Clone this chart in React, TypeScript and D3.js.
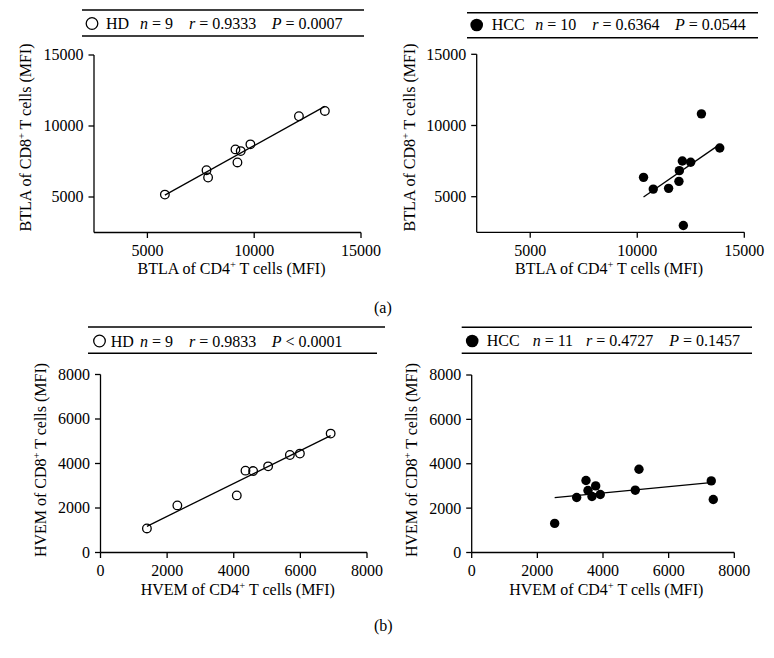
import React from "react";
import * as d3 from "d3";

// ---- tick values ----
const btlaTicks = [5000, 10000, 15000];
const hvemTicks = [0, 2000, 4000, 6000, 8000];
const btlaDomain = [2500, 15000];
const hvemDomain = [0, 8000];

// ---- (a) BTLA, healthy donors ----
const hdBtlaCD4 = [13308, 12094, 9822, 9369, 9122, 9215, 7767, 7841, 5818];
const hdBtlaCD8 = [11061, 10686, 8706, 8232, 8352, 7433, 6888, 6372, 5170];
// ---- (a) BTLA, HCC ----
const hccBtlaCD4 = [12997, 13854, 12106, 12495, 11966, 10293, 11947, 10747, 11464, 12153];
const hccBtlaCD8 = [10817, 8423, 7507, 7416, 6831, 6359, 6078, 5535, 5585, 2979];
// ---- (b) HVEM, healthy donors ----
const hdHvemCD4 = [6909, 5986, 5685, 5032, 4581, 4352, 4091, 2307, 1393];
const hdHvemCD8 = [5344, 4444, 4381, 3872, 3661, 3678, 2566, 2116, 1081];
// ---- (b) HVEM, HCC ----
const hccHvemCD4 = [5096, 3482, 7298, 3777, 3543, 4983, 3917, 3664, 3198, 7359, 2528];
const hccHvemCD8 = [3753, 3245, 3227, 3002, 2796, 2809, 2616, 2526, 2481, 2391, 1312];

// ---- header texts ----
const headerGroups = ["HD", "HCC", "HD", "HCC"];
const headerN = ["9", "10", "9", "11"];
const headerR = ["0.9333", "0.6364", "0.9833", "0.4727"];
const headerP = ["= 0.0007", "= 0.0544", "< 0.0001", "= 0.1457"];

const FONT = "'Liberation Serif', 'Times New Roman', serif";

type PanelCfg = {
  xs: number[];
  ys: number[];
  filled: boolean;
  xDomain: number[];
  yDomain: number[];
  ticks: number[];
  left: number;
  right: number;
  top: number;
  bottom: number;
  zeroCross: boolean;
  marker: string;
  xTitle: [number, number];
  yTitle: [number, number];
  header: {
    idx: number;
    cx: number;
    cy: number;
    base: number;
    xs: number[];
    rule: [number, number, number, number, number];
  };
};

const panels: PanelCfg[] = [
  {
    xs: hdBtlaCD4, ys: hdBtlaCD8, filled: false,
    xDomain: btlaDomain, yDomain: btlaDomain, ticks: btlaTicks,
    left: 94, right: 361, top: 55, bottom: 232.5, zeroCross: false, marker: "BTLA",
    xTitle: [231.5, 273.7], yTitle: [30.5, 137.5],
    header: { idx: 0, cx: 92, cy: 23.5, base: 28.5, xs: [106, 140, 189, 271.7], rule: [82, 364, 10, 36, 364] },
  },
  {
    xs: hccBtlaCD4, ys: hccBtlaCD8, filled: true,
    xDomain: btlaDomain, yDomain: btlaDomain, ticks: btlaTicks,
    left: 476.7, right: 744.3, top: 54.3, bottom: 232.3, zeroCross: false, marker: "BTLA",
    xTitle: [609, 274], yTitle: [415, 137.5],
    header: { idx: 1, cx: 476.7, cy: 25, base: 30, xs: [491.7, 535.3, 592.3, 675], rule: [467, 758, 12.7, 37.7, 758] },
  },
  {
    xs: hdHvemCD4, ys: hdHvemCD8, filled: false,
    xDomain: hvemDomain, yDomain: hvemDomain, ticks: hvemTicks,
    left: 100.5, right: 367, top: 374.5, bottom: 552.5, zeroCross: true, marker: "HVEM",
    xTitle: [237.8, 595], yTitle: [46, 460],
    header: { idx: 2, cx: 99.5, cy: 341, base: 346.7, xs: [110.7, 140, 189, 271.7], rule: [88, 385, 327, 353.3, 377] },
  },
  {
    xs: hccHvemCD4, ys: hccHvemCD8, filled: true,
    xDomain: hvemDomain, yDomain: hvemDomain, ticks: hvemTicks,
    left: 471.7, right: 734.3, top: 375, bottom: 552.5, zeroCross: true, marker: "HVEM",
    xTitle: [606.3, 595], yTitle: [417, 460],
    header: { idx: 3, cx: 472.2, cy: 341, base: 346, xs: [486.7, 532.7, 586, 669.3], rule: [461.7, 752, 327.3, 353.3, 752] },
  },
];

function Title({ marker, cd }: { marker: string; cd: string }) {
  return (
    <>
      <tspan>{`${marker} of CD${cd}`}</tspan>
      <tspan dy={-6} fontSize={10.5}>+</tspan>
      <tspan dy={6}>{" T cells (MFI)"}</tspan>
    </>
  );
}

function Panel({ p }: { p: PanelCfg }) {
  const x = d3.scaleLinear().domain(p.xDomain).range([p.left, p.right]);
  const y = d3.scaleLinear().domain(p.yDomain).range([p.bottom, p.top]);
  const mx = d3.mean(p.xs) as number;
  const my = d3.mean(p.ys) as number;
  const sxy = d3.sum(p.xs, (v, i) => (v - mx) * (p.ys[i] - my));
  const sxx = d3.sum(p.xs, (v) => (v - mx) * (v - mx));
  const b = sxy / sxx;
  const a = my - b * mx;
  const [xmin, xmax] = d3.extent(p.xs) as [number, number];
  const lineGen = d3.line<number>().x((v) => x(v)).y((v) => y(a + b * v));
  const h = p.header;
  const [r0, r1, ry0, ry1, r1b] = h.rule;
  const tickLen = 5.5;
  const sw = 1.3;
  return (
    <g>
      {/* header */}
      <line x1={r0} x2={r1} y1={ry0} y2={ry0} stroke="#000" strokeWidth={1.4} />
      <line x1={r0} x2={r1b} y1={ry1} y2={ry1} stroke="#000" strokeWidth={1.4} />
      <circle cx={h.cx} cy={h.cy} r={p.filled ? 6.3 : 5.8} fill={p.filled ? "#000" : "#fff"} stroke="#000" strokeWidth={p.filled ? 0 : 1.3} />
      <text x={h.xs[0]} y={h.base} fontSize={16}>{headerGroups[h.idx]}</text>
      <text x={h.xs[1]} y={h.base} fontSize={16}>
        <tspan fontStyle="italic">n</tspan>{` = ${headerN[h.idx]}`}
      </text>
      <text x={h.xs[2]} y={h.base} fontSize={16}>
        <tspan fontStyle="italic">r</tspan>{` = ${headerR[h.idx]}`}
      </text>
      <text x={h.xs[3]} y={h.base} fontSize={16}>
        <tspan fontStyle="italic">P</tspan>{` ${headerP[h.idx]}`}
      </text>

      {/* axes */}
      <line x1={p.left} x2={p.left} y1={p.top} y2={p.bottom} stroke="#000" strokeWidth={sw} />
      <line x1={p.left} x2={p.right} y1={p.bottom} y2={p.bottom} stroke="#000" strokeWidth={sw} />
      {p.ticks.map((t) => (
        <g key={"y" + t}>
          <line x1={p.left - tickLen} x2={p.left} y1={y(t)} y2={y(t)} stroke="#000" strokeWidth={sw} />
          <text x={p.left - 10.5} y={y(t)} dy="0.34em" textAnchor="end" fontSize={16}>{t}</text>
        </g>
      ))}
      {p.ticks.map((t) => (
        <g key={"x" + t}>
          <line x1={x(t)} x2={x(t)} y1={p.bottom} y2={p.bottom + tickLen} stroke="#000" strokeWidth={sw} />
          <text x={x(t)} y={p.bottom + 23.5} textAnchor="middle" fontSize={16}>{t}</text>
        </g>
      ))}
      <text x={p.xTitle[0]} y={p.xTitle[1]} textAnchor="middle" fontSize={16}>
        <Title marker={p.marker} cd="4" />
      </text>
      <text transform={`translate(${p.yTitle[0]},${p.yTitle[1]}) rotate(-90)`} textAnchor="middle" fontSize={16}>
        <Title marker={p.marker} cd="8" />
      </text>

      {/* regression line */}
      <path d={lineGen([xmin, xmax]) as string} fill="none" stroke="#000" strokeWidth={1.3} />

      {/* points */}
      {p.xs.map((v, i) => (
        <circle
          key={i}
          cx={x(v)}
          cy={y(p.ys[i])}
          r={p.filled ? 4.7 : 4.3}
          fill={p.filled ? "#000" : "none"}
          stroke="#000"
          strokeWidth={p.filled ? 0 : 1.3}
        />
      ))}
    </g>
  );
}

export default function App() {
  return (
    <svg
      width={774}
      height={658}
      style={{ position: "absolute", left: 0, top: 0, background: "#fff" }}
      fontFamily={FONT}
      fill="#000"
    >
      <rect width={774} height={658} fill="#fff" />
      {panels.map((p, i) => (
        <Panel key={i} p={p} />
      ))}
      <text x={374} y={313} fontSize={16}>(a)</text>
      <text x={374} y={631} fontSize={16}>(b)</text>
    </svg>
  );
}
